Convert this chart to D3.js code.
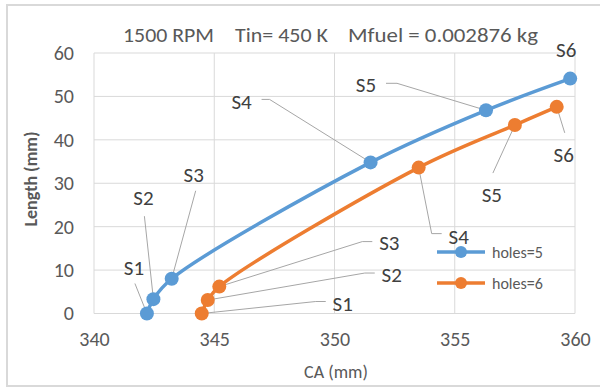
<!DOCTYPE html>
<html><head><meta charset="utf-8">
<script src="https://cdn.jsdelivr.net/npm/d3@7"></script>
<style>body{margin:0;background:#fff}text{font-family:Carlito,Lato,sans-serif}</style>
</head><body><svg id="c" width="600" height="388"></svg>
<script>
// ---- data ----
const stageLabels = ["S1","S2","S3","S4","S5","S6"];
const holes5CA = [342.2, 342.47, 343.23, 351.5, 356.3, 359.8];
const holes5Len = [0, 3.3, 8.0, 34.8, 46.8, 54.1];
const holes6CA = [344.48, 344.73, 345.21, 353.5, 357.5, 359.24];
const holes6Len = [0, 3.1, 6.2, 33.6, 43.4, 47.6];
const seriesNames = ["holes=5","holes=6"];
const xTicks = [340,345,350,355,360];
const yTicks = [0,10,20,30,40,50,60];
const titleParts = ["1500 RPM","Tin= 450 K","Mfuel = 0.002876 kg"];

// ---- layout (label offsets in px, not data) ----
const labelLayout = [
  [ {dx:-13,dy:-46,p:[[1,16]]}, {dx:-10,dy:-101,p:[[1,18]]}, {dx:22,dy:-104,p:[[2,16]]},
    {dx:-129,dy:-60,p:[[20,-3],[28,-3]]}, {dx:-120,dy:-25,p:[[20,-2],[31,-2]]}, {dx:-4,dy:-29,p:[]} ],
  [ {dx:141,dy:-10,p:[[-17,-2],[-27,-2]]}, {dx:184,dy:-25,p:[[-17,-2],[-27,-2]]}, {dx:170,dy:-44,p:[[-17,-1],[-27,-1]]},
    {dx:40,dy:69,p:[[-17,-3],[-27,-3]]}, {dx:-23,dy:70,p:[[1,-22]]}, {dx:7,dy:48,p:[[1,-22]]} ]
];
const colors = ["#5B9BD5","#ED7D31"];

const svg = d3.select("#c");
svg.append("rect").attr("x",7).attr("y",5).attr("width",600).attr("height",381)
  .attr("fill","#fff").attr("stroke","#d9d9d9").attr("stroke-width",2);

const x = d3.scaleLinear().domain([340,360]).range([94,575]);
const y = d3.scaleLinear().domain([0,60]).range([313.5,53]);

// gridlines
const g = svg.append("g");
g.selectAll(".gx").data(xTicks).enter().append("line")
  .attr("x1",d=>x(d)).attr("x2",d=>x(d)).attr("y1",y(0)).attr("y2",y(60))
  .attr("stroke","#d9d9d9").attr("stroke-width",1);
g.selectAll(".gy").data(yTicks).enter().append("line")
  .attr("y1",d=>y(d)).attr("y2",d=>y(d)).attr("x1",x(340)).attr("x2",x(360))
  .attr("stroke","#d9d9d9").attr("stroke-width",1);

// axes (labels only)
const xAxis = d3.axisBottom(x).tickValues(xTicks).tickSize(0).tickPadding(18);
const gx = svg.append("g").attr("transform",`translate(0,${y(0)})`).call(xAxis);
const yAxis = d3.axisLeft(y).tickValues(yTicks).tickSize(0).tickPadding(20);
const gy = svg.append("g").attr("transform",`translate(${x(340)},0)`).call(yAxis);
[gx,gy].forEach(a=>{a.select(".domain").remove();
  a.selectAll("text").attr("fill","#595959").style("font-size","20px").style("font-family","Carlito,Lato,sans-serif");});

// title
const titleX = [123,235,348];
const titleW = [91,93,190];
svg.selectAll(".title").data(titleParts).enter().append("text")
  .attr("x",(d,i)=>titleX[i]).attr("y",42).attr("fill","#595959")
  .attr("textLength",(d,i)=>titleW[i]).attr("lengthAdjust","spacingAndGlyphs")
  .style("font-size","20px").text(d=>d);

// axis titles
svg.append("text").attr("transform","translate(37,179) rotate(-90)").attr("text-anchor","middle")
  .attr("fill","#595959").style("font-size","18px").style("font-weight","bold").text("Length (mm)");
svg.append("text").attr("x",336).attr("y",378).attr("text-anchor","middle")
  .attr("fill","#595959").style("font-size","18px").text("CA (mm)");

const series = [
  holes5CA.map((c,i)=>({ca:c,len:holes5Len[i],lab:stageLabels[i]})),
  holes6CA.map((c,i)=>({ca:c,len:holes6Len[i],lab:stageLabels[i]}))
];

// leader lines + labels
series.forEach((s,si)=>{
  s.forEach((d,i)=>{
    const L = labelLayout[si][i];
    const px = x(d.ca), py = y(d.len);
    const lx = px+L.dx, ly = py+L.dy;
    if (L.p.length){
      const pts = L.p.map(q=>[lx+q[0],ly+q[1]]).concat([[px,py]]);
      svg.append("path").attr("d",d3.line()(pts)).attr("fill","none")
        .attr("stroke","#a6a6a6").attr("stroke-width",1);
    }
    svg.append("text").attr("x",lx).attr("y",ly).attr("text-anchor","middle")
      .attr("dominant-baseline","central").attr("fill","#404040")
      .style("font-size","21px").text(d.lab);
  });
});

// lines & markers
const line = d3.line().x(d=>x(d.ca)).y(d=>y(d.len)).curve(d3.curveCatmullRom.alpha(0.5));
series.forEach((s,si)=>{
  svg.append("path").datum(s).attr("d",line).attr("fill","none")
    .attr("stroke",colors[si]).attr("stroke-width",3.5).attr("stroke-linecap","round");
  svg.selectAll(null).data(s).enter().append("circle")
    .attr("cx",d=>x(d.ca)).attr("cy",d=>y(d.len)).attr("r",7).attr("fill",colors[si]);
});

// legend
const legY = [252,283];
seriesNames.forEach((n,i)=>{
  svg.append("line").attr("x1",437).attr("x2",485).attr("y1",legY[i]).attr("y2",legY[i])
    .attr("stroke",colors[i]).attr("stroke-width",3.5);
  svg.append("circle").attr("cx",461).attr("cy",legY[i]).attr("r",6).attr("fill",colors[i]);
  svg.append("text").attr("x",492).attr("y",legY[i]).attr("dominant-baseline","central")
    .attr("fill","#595959").style("font-size","16px").text(n);
});
</script></body></html>
